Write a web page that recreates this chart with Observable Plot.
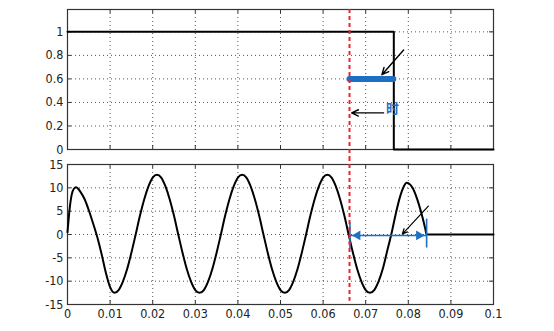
<!DOCTYPE html>
<html><head><meta charset="utf-8">
<script src="https://cdn.jsdelivr.net/npm/d3@7"></script>
<script src="https://cdn.jsdelivr.net/npm/@observablehq/plot@0.6"></script>
<style>
html,body{margin:0;padding:0;background:#fff;}
#wrap{position:relative;width:554px;height:331px;overflow:hidden;}
#wrap svg{position:absolute;left:0;}
</style>
</head><body><div id="wrap"></div>
<script>
// x ticks (time, s)
const xTicks = [0, 0.01, 0.02, 0.03, 0.04, 0.05, 0.06, 0.07, 0.08, 0.09, 0.1];
const xGrid = [0.01, 0.02, 0.03, 0.04, 0.05, 0.06, 0.07, 0.08, 0.09];
const yTopTicks = [0, 0.2, 0.4, 0.6, 0.8, 1];
const yTopGrid = [0.2, 0.4, 0.6, 0.8, 1];
const yBotTicks = [-15, -10, -5, 0, 5, 10, 15];
const yBotGrid = [-10, -5, 0, 5, 10];

// top panel: gate signal
const tStep = [0, 0.0766, 0.0766, 0.1];
const vStep = [1, 1, 0, 0];

// bottom panel: current
const tCur = [0, 0.0005, 0.001, 0.0015, 0.002, 0.0025, 0.003, 0.004, 0.005, 0.006, 0.007, 0.008, 0.009, 0.010,
  0.011, 0.012, 0.013, 0.014, 0.015, 0.016, 0.017, 0.018, 0.019, 0.020,
  0.021, 0.022, 0.023, 0.024, 0.025, 0.026, 0.027, 0.028, 0.029, 0.030,
  0.031, 0.032, 0.033, 0.034, 0.035, 0.036, 0.037, 0.038, 0.039, 0.040,
  0.041, 0.042, 0.043, 0.044, 0.045, 0.046, 0.047, 0.048, 0.049, 0.050,
  0.051, 0.052, 0.053, 0.054, 0.055, 0.056, 0.057, 0.058, 0.059, 0.060,
  0.061, 0.062, 0.063, 0.064, 0.065, 0.066, 0.067, 0.068, 0.069, 0.070,
  0.071, 0.072, 0.073, 0.074, 0.075, 0.076, 0.077, 0.078, 0.079, 0.0796, 0.080,
  0.081, 0.082, 0.083, 0.084, 0.0843, 0.090, 0.1];
const vCur = [0.5, 5.5, 8.6, 9.8, 10.1, 9.8, 9.2, 7.6, 5.2, 2.4, -0.6, -4.2, -8.2, -11.3,
  -12.5, -11.9, -10.1, -7.4, -3.9, 0, 4.0, 7.5, 10.3, 12.2,
  12.8, 12.2, 10.3, 7.5, 4.0, 0, -3.9, -7.4, -10.1, -11.9,
  -12.5, -11.9, -10.1, -7.4, -3.9, 0, 4.0, 7.5, 10.3, 12.2,
  12.8, 12.2, 10.3, 7.5, 4.0, 0, -3.9, -7.4, -10.1, -11.9,
  -12.5, -11.9, -10.1, -7.4, -3.9, 0, 4.0, 7.5, 10.3, 12.2,
  12.8, 12.2, 10.3, 7.5, 4.0, 0, -3.9, -7.4, -10.1, -11.9,
  -12.5, -11.9, -10.1, -7.4, -3.7, 0, 4.2, 7.9, 10.4, 11.1, 11.0,
  10.0, 7.8, 4.8, 1.2, 0, 0, 0];

// annotations
const redX = [0.0662];
const blueBar = [{x1: 0.0663, x2: 0.0766, y: 0.6}];
const topArrows = [
  {x1: 0.0789, y1: 0.845, x2: 0.0738, y2: 0.636},
  {x1: 0.0742, y1: 0.311, x2: 0.0667, y2: 0.311}
];
const topLabel = [{x: 0.0763, y: 0.345, text: "时"}];
const botArrow = [{x1: 0.0847, y1: 6.1, x2: 0.0786, y2: 0.1}];
const spanArrow = [{x1: 0.0663, x2: 0.0843, y: -0.2}];
const spanHeads = [{x: 0.0681, y: -0.2, r: -90}, {x: 0.0825, y: -0.2, r: 90}];
const spanEnds = [{x: 0.0663, y1: 2.5, y2: -3.15}, {x: 0.0843, y1: 3.3, y2: -2.9}];

const step = tStep.map((t, i) => ({t, v: vStep[i]}));
const cur = tCur.map((t, i) => ({t, v: vCur[i]}));

const BLUE = "#1e6fc4";
const RED = "#e8262e";
const GRID = "#555";
const FONT = "'Liberation Sans Narrow', 'DejaVu Sans Condensed', 'Liberation Sans', sans-serif";
const ML = 67, MR = 61;
const PW = 554 - ML - MR;

function tickMarks(yTicks, ph) {
  return [
    Plot.ruleX(xTicks, {insetTop: ph - 4, stroke: "#333"}),
    Plot.ruleX(xTicks, {insetBottom: ph - 4, stroke: "#333"}),
    Plot.ruleY(yTicks, {insetRight: PW - 4, stroke: "#333"}),
    Plot.ruleY(yTicks, {insetLeft: PW - 4, stroke: "#333"})
  ];
}

const topH = 157, topMT = 9, topMB = 8;
const topPlot = Plot.plot({
  width: 554, height: topH, marginLeft: ML, marginRight: MR, marginTop: topMT, marginBottom: topMB,
  x: {domain: [0, 0.1], axis: null},
  y: {domain: [0, 1.19]},
  style: {overflow: "visible", background: "transparent", fontFamily: FONT, fontSize: "12.5px"},
  marks: [
    Plot.ruleX(xGrid, {stroke: GRID, strokeDasharray: "1,3"}),
    Plot.ruleY(yTopGrid, {stroke: GRID, strokeDasharray: "1,3"}),
    ...tickMarks(yTopTicks, topH - topMT - topMB),
    Plot.frame({stroke: "#333", strokeWidth: 1.2}),
    Plot.line(step, {x: "t", y: "v", stroke: "#000", strokeWidth: 2}),
    Plot.ruleY(blueBar, {x1: "x1", x2: "x2", y: "y", stroke: BLUE, strokeWidth: 6, strokeLinecap: "round"}),
    Plot.arrow(topArrows, {x1: "x1", y1: "y1", x2: "x2", y2: "y2", stroke: "#000", strokeWidth: 1.4, headLength: 8, headAngle: 50}),
    Plot.text(topLabel, {x: "x", y: "y", text: "text", fill: BLUE, fontSize: 13, fontFamily: "'Noto Sans CJK SC', sans-serif", fontWeight: "bold"}),
    Plot.ruleX(redX, {y1: 1.19, y2: -0.068, stroke: RED, strokeWidth: 2, strokeDasharray: "4,3"}),
    Plot.axisY({ticks: yTopTicks, tickSize: 0, tickPadding: 4, tickFormat: d => String(d), fill: "#222"})
  ]
});

const botH = 174, botMT = 7, botMB = 27;
const botPlot = Plot.plot({
  width: 554, height: botH, marginLeft: ML, marginRight: MR, marginTop: botMT, marginBottom: botMB,
  x: {domain: [0, 0.1]},
  y: {domain: [-15, 15]},
  style: {overflow: "visible", background: "transparent", fontFamily: FONT, fontSize: "12.5px"},
  marks: [
    Plot.ruleX(xGrid, {stroke: GRID, strokeDasharray: "1,3"}),
    Plot.ruleY(yBotGrid, {stroke: GRID, strokeDasharray: "1,3"}),
    ...tickMarks(yBotTicks, botH - botMT - botMB),
    Plot.frame({stroke: "#333", strokeWidth: 1.2}),
    Plot.line(cur, {x: "t", y: "v", stroke: "#000", strokeWidth: 2, curve: "monotone-x"}),
    Plot.ruleY(spanArrow, {x1: "x1", x2: "x2", y: "y", stroke: BLUE, strokeWidth: 1.6}),
    Plot.dot(spanHeads, {x: "x", y: "y", rotate: "r", symbol: "triangle", r: 3.6, fill: BLUE, stroke: null}),
    Plot.ruleX(spanEnds, {x: "x", y1: "y1", y2: "y2", stroke: BLUE, strokeWidth: 1.6}),
    Plot.arrow(botArrow, {x1: "x1", y1: "y1", x2: "x2", y2: "y2", stroke: "#000", strokeWidth: 1.2, headLength: 7, headAngle: 50}),
    Plot.ruleX(redX, {y1: 16.5, y2: -14.3, stroke: RED, strokeWidth: 2, strokeDasharray: "4,3"}),
    Plot.axisY({ticks: yBotTicks, tickSize: 0, tickPadding: 4, tickFormat: d => String(d), fill: "#222"}),
    Plot.axisX({ticks: xTicks, tickSize: 0, tickPadding: 5, tickFormat: d => String(d), fill: "#222"})
  ]
});

const wrap = document.getElementById("wrap");
topPlot.style.top = "0px";
botPlot.style.top = topH + "px";
wrap.appendChild(topPlot);
wrap.appendChild(botPlot);
</script></body></html>
